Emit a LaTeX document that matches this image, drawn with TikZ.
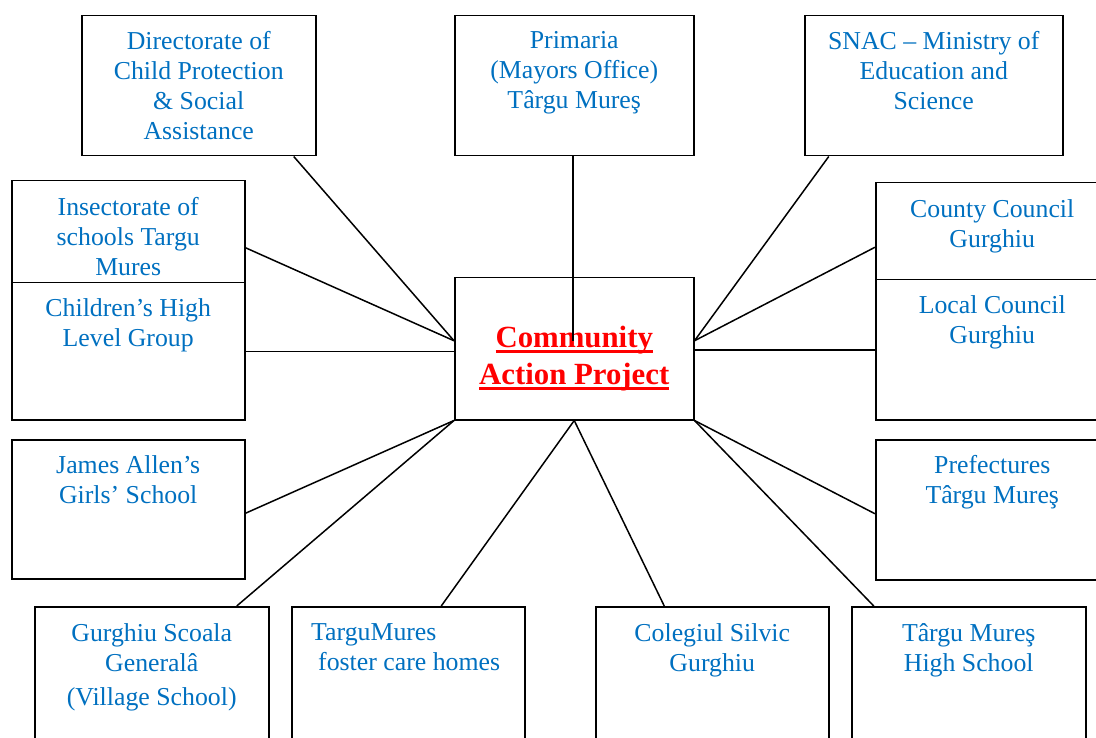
\documentclass[tikz,border=0pt]{standalone}
\usepackage{fontspec}
\setmainfont{Liberation Serif}
\usepackage{tikz}
\definecolor{orgblue}{RGB}{0,112,192}
\newcommand{\capline}[1]{\setbox0\hbox{#1}\rlap{\rule[-5pt]{\wd0}{2.6pt}}\box0}

\begin{document}
\begin{tikzpicture}[x=1pt,y=-1pt,
  box/.style={draw,line width=1.5pt,rectangle,inner sep=0pt,anchor=north west,minimum width=233pt,minimum height=140pt},
  lbl/.style={text=orgblue,font=\fontsize{25.8}{30}\selectfont,align=center,inner sep=0pt,anchor=north,execute at begin node=\strut},
  link/.style={line width=1.5pt}]
\useasboundingbox (0,0) rectangle (1096,738);

% boxes
\node[box,minimum width=234pt] (dir) at (81,15) {};
\node[box,minimum width=239pt] (prim) at (454,15) {};
\node[box,minimum width=258pt] (snac) at (804,15) {};
\node[box,minimum height=102pt] (insp) at (11,180) {};
\node[box,minimum height=137pt] (chg) at (11,282) {};
\node[box,minimum height=97pt] (cty) at (875,182) {};
\node[box] (loc) at (875,279) {};
\node[box,minimum width=239pt,minimum height=142pt] (cap) at (454,277) {};
\node[box,minimum height=139pt] (jag) at (11,439) {};
\node[box] (pref) at (875,439) {};
\node[box,minimum width=234pt] (gsg) at (34,606) {};
\node[box] (tfc) at (291,606) {};
\node[box] (csg) at (595,606) {};
\node[box,minimum width=234pt] (ths) at (851,606) {};

% texts
\node[lbl] (dirt) at ([yshift=-16pt]dir.north) {Directorate of\\Child Protection\\\& Social\\Assistance};
\node[lbl] (primt) at ([yshift=-16pt]prim.north) {Primaria\\(Mayors Office)\\Târgu Mureş};
\node[lbl] (snact) at ([yshift=-16pt]snac.north) {SNAC – Ministry of\\Education and\\Science};
\node[lbl] (inspt) at ([yshift=-17pt]insp.north) {Insectorate of\\schools Targu\\Mures};
\node[lbl] (chgt) at ([yshift=-16pt]chg.north) {Children’s High\\Level Group};
\node[lbl] (ctyt) at ([yshift=-17pt]cty.north) {County Council\\Gurghiu};
\node[lbl] (loct) at ([yshift=-16pt]loc.north) {Local Council\\Gurghiu};
\node[lbl] (jagt) at ([yshift=-16pt]jag.north) {James Allen’s\\Girls’ School};
\node[lbl] (preft) at ([yshift=-16pt]pref.north) {Prefectures\\Târgu Mureş};
\node[lbl] (gsgt) at ([yshift=-17pt]gsg.north) {Gurghiu Scoala\\Generalâ\\[4pt](Village School)};
\node[lbl,anchor=north west,align=left] (tfct) at ([xshift=20pt,yshift=-17pt]tfc.north west) {TarguMures\\\hspace*{7pt}foster care homes};
\node[lbl] (csgt) at ([yshift=-17pt]csg.north) {Colegiul Silvic\\Gurghiu};
\node[lbl] (thst) at ([yshift=-17pt]ths.north) {Târgu Mureş\\High School};
\node[text=red,font=\bfseries\fontsize{30.8}{37}\selectfont,align=center,inner sep=0pt,anchor=north,execute at begin node=\strut]
  (capt) at ([yshift=-49pt]cap.north) {\capline{Community}\\\capline{Action Project}};

% meeting points on the project box
\coordinate (capw) at ([yshift=8pt]cap.west);
\coordinate (cape) at ([yshift=8pt]cap.east);
\coordinate (capc) at ([xshift=-1.5pt,yshift=8pt]cap.center);

% links
\draw[link] ([xshift=95pt]dir.south) -- (capw);
\draw[link] ([xshift=-1.5pt]prim.south) -- (capc);
\draw[link] ([xshift=-105pt]snac.south) -- (cape);
\draw[link] ([yshift=-16pt]insp.east) -- (capw);
\draw[link] (chg.east) -- (chg.east -| cap.west);
\draw[link] ([yshift=-16pt]cty.west) -- (cape);
\draw[link] (loc.west) -- (loc.west -| cap.east);
\draw[link] ([yshift=-4pt]jag.east) -- (cap.south west);
\draw[link] ([yshift=-4pt]pref.west) -- (cap.south east);
\draw[link] ([xshift=85pt]gsg.north) -- (cap.south west);
\draw[link] ([xshift=33pt]tfc.north) -- (cap.south);
\draw[link] ([xshift=-48pt]csg.north) -- (cap.south);
\draw[link] ([xshift=-95pt]ths.north) -- (cap.south east);
\end{tikzpicture}
\end{document}
